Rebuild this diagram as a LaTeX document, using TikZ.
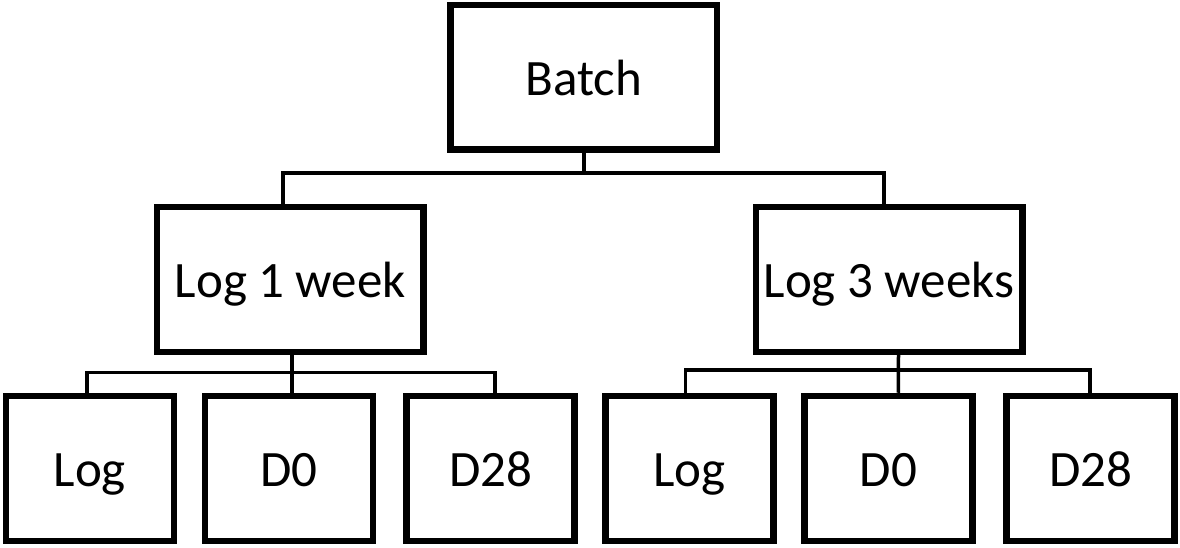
\documentclass[tikz,border=0pt]{standalone}
\usepackage{fontspec}
\setmainfont{Carlito}
\begin{document}
\begin{tikzpicture}[x=1pt,y=-1pt,
  box/.style={draw=black,line width=6.5pt,rectangle,inner sep=0pt,
    text height=36pt,text depth=0pt,font=\fontsize{51}{61}\selectfont},
  bigbox/.style={box,minimum width=266.5pt,minimum height=144.5pt},
  leafbox/.style={box,minimum width=168pt,minimum height=145pt},
  conn/.style={draw=black,line width=3.5pt}]
\useasboundingbox (0,0) rectangle (1180,548);
\fill[white] (0,0) rectangle (1180,548);
% nodes
\node[bigbox] (batch) at (583.75,77.25) {Batch};
\node[bigbox] (l1) at (290.3,279.5) {Log 1 week};
\node[bigbox] (l3) at (889,279.5) {Log 3 weeks};
\node[leafbox] (a1) at (89.8,468.5) {Log};
\node[leafbox] (a2) at (289,468.5) {D0};
\node[leafbox] (a3) at (490.6,468.5) {D28};
\node[leafbox] (b1) at (689.5,468.5) {Log};
\node[leafbox] (b2) at (888.5,468.5) {D0};
\node[leafbox] (b3) at (1090.7,468.5) {D28};
% bus coordinates
\coordinate (j0) at (583.75,173);
\coordinate (j1) at (292,372.5);
\coordinate (j3) at (898.5,370);
% connectors
\draw[conn] (batch.south) -- (j0);
\draw[conn] ([xshift=-7.3pt]l1.north) |- (j0) -| ([xshift=-5pt]l3.north);
\draw[conn] ([xshift=1.7pt]l1.south) -- ([xshift=3pt]a2.north);
\draw[conn] ([xshift=-2.8pt]a1.north) |- (j1) -| ([xshift=4.4pt]a3.north);
\draw[conn] ([xshift=9.5pt]l3.south) -- ([xshift=9.8pt]b2.north);
\draw[conn] ([xshift=-4.2pt]b1.north) |- (j3) -| ([xshift=-0.7pt]b3.north);
\end{tikzpicture}
\end{document}
